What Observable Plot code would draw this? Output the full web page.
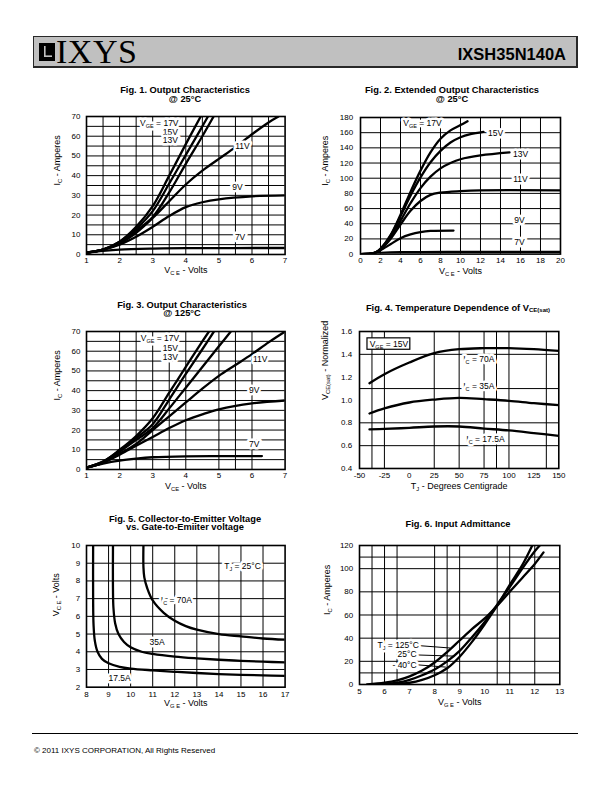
<!DOCTYPE html>
<html><head><meta charset="utf-8">
<script src="https://cdn.jsdelivr.net/npm/d3@7"></script>
<script src="https://cdn.jsdelivr.net/npm/@observablehq/plot@0.6"></script>
<style>
body{margin:0;background:#fff;}
#page{position:relative;width:612px;height:792px;font-family:"Liberation Sans",Arial,sans-serif;overflow:hidden;background:#fff;color:#000}
.title{position:absolute;transform:translateX(-50%);font-weight:bold;font-size:9.3px;text-align:center;white-space:nowrap;line-height:8.8px}
.sub{font-size:65%;position:relative;top:1.5px}
.hbox{position:absolute;left:33px;top:36px;width:543px;height:30px;background-color:rgb(192,192,192) !important;border:1px solid rgb(40,40,40);z-index:0}
#fline{position:absolute;left:32px;top:733px;width:546px;height:1px;background:#000}
#foot{position:absolute;left:34px;top:746px;font-size:8px;line-height:10px}
</style></head>
<body><div id="page">
<div class="hbox"></div>
<svg width="612" height="80" style="position:absolute;left:0;top:0;z-index:1" xmlns="http://www.w3.org/2000/svg">
  <rect x="33.5" y="36.5" width="543" height="30" style="fill:rgb(192,192,192);stroke:rgb(40,40,40);stroke-width:1"/>
  <rect x="39" y="43" width="16" height="18" fill="#000"/>
  <rect x="44" y="46" width="1.6" height="11" style="fill:rgb(192,192,192)"/>
  <rect x="44" y="55.4" width="8" height="1.6" style="fill:rgb(192,192,192)"/>
  <text x="56" y="63" font-family="Liberation Serif, Times New Roman, serif" font-size="34" letter-spacing="0.5">IXYS</text>
  <text x="566" y="59.5" text-anchor="end" font-family="Liberation Sans, Arial, sans-serif" font-weight="bold" font-size="16.5">IXSH35N140A</text>
</svg>
<div class="title" style="left:185px;top:86px">Fig. 1. Output Characteristics<br>@ 25°C</div>
<div class="title" style="left:452px;top:86px">Fig. 2. Extended Output Characteristics<br>@ 25°C</div>
<div class="title" style="left:182px;top:300.5px">Fig. 3. Output Characteristics<br>@ 125°C</div>
<div class="title" style="left:458px;top:303.5px">Fig. 4. Temperature Dependence of V<span class="sub">CE(sat)</span></div>
<div class="title" style="left:185px;top:514.5px">Fig. 5. Collector-to-Emitter Voltage<br>vs. Gate-to-Emiiter voltage</div>
<div class="title" style="left:458px;top:519.5px">Fig. 6. Input Admittance</div>
<div id="fline"></div>
<div id="foot">© 2011 IXYS CORPORATION, All Rights Reserved</div>
</div>
<script>
// ---------- Fig 1: Output characteristics @25C (VCE, IC) ----------
const f1_17V = [[1,1],[1.5,2.5],[2,6.5],[2.5,14],[3,24.5],[3.5,40],[4,56],[4.45,70]];
const f1_15V = [[1,1],[1.5,2.5],[2,6.5],[2.5,13],[3,22],[3.5,36],[4,50.5],[4.5,65],[4.67,70]];
const f1_13V = [[1,1],[1.5,2.5],[2,6],[2.5,12],[3,19],[3.5,31.5],[4,46],[4.5,60],[4.84,70]];
const f1_11V = [[1,1],[1.5,2.5],[2,5.5],[2.5,11],[3,18.5],[3.5,27],[4,35.5],[4.5,42.5],[5,48.5],[5.5,54.5],[6,61],[6.5,67],[6.8,70]];
const f1_9V  = [[1,1],[1.5,2.5],[2,5],[2.5,9],[3,14],[3.5,19.5],[4,24],[4.5,26.5],[5,28],[6,29.5],[7,30]];
const f1_7V  = [[1,0.8],[1.5,1.8],[2,2.5],[3,3],[4,3.2],[7,3.3]];
const f1_labels = [
  {x:3.78,y:66.5,t:"V_{GE} = 17V",a:"end"},{x:3.76,y:62.2,t:"15V",a:"end"},{x:3.76,y:57.8,t:"13V",a:"end"},
  {x:5.71,y:54.8,t:"11V",a:"middle"},{x:5.56,y:34.3,t:"9V",a:"middle"},{x:5.64,y:8.6,t:"7V",a:"middle"}];
const f1_xTicks = [1,2,3,4,5,6,7];
const f1_yTicks = [0,10,20,30,40,50,60,70];
const f1_xGrid = [1.5,2,2.5,3,3.5,4,4.5,5,5.5,6,6.5];
const f1_yGrid = [5,10,15,20,25,30,35,40,45,50,55,60,65];

// ---------- Fig 2: Extended output characteristics @25C ----------
const f2_17V = [[0,0],[1,0.5],[1.5,2],[2,7],[3,25],[4,52],[5,82],[6,110],[7,134],[8,152],[9,163],[10,170],[10.7,175]];
const f2_15V = [[0,0],[1,0.5],[1.5,2],[2,7],[3,24],[4,50],[5,77],[6,101],[7,121],[8,136],[9,147],[10,154],[11,158],[12.3,161]];
const f2_13V = [[0,0],[1,0.5],[1.5,2],[2,6],[3,22],[4,44],[5,67],[6,87],[7,102],[8,113],[9,120],[10,125],[12,130],[14.9,134]];
const f2_11V = [[0,0],[1,0.5],[1.5,2],[2,6],[3,20],[4,39],[5,57],[6,70],[7,78],[8,81],[10,83],[12,84],[20,84]];
const f2_9V  = [[0,0],[1,0.5],[1.5,2],[2,5],[3,13],[4,21],[5,26],[6,29],[7,30.5],[9.3,31]];
const f2_7V  = [[0,0],[1,0.5],[2,1.5],[4,2.5],[10,3],[20,3]];
const f2_labels = [
  {x:6.2,y:172,t:"V_{GE} = 17V",a:"middle"},{x:13.5,y:159,t:"15V",a:"middle"},{x:16,y:131,t:"13V",a:"middle"},
  {x:16,y:98,t:"11V",a:"middle"},{x:15.9,y:45,t:"9V",a:"middle"},{x:15.9,y:15,t:"7V",a:"middle"}];
const f2_xTicks = [0,2,4,6,8,10,12,14,16,18,20];
const f2_yTicks = [0,20,40,60,80,100,120,140,160,180];
const f2_xGrid = [2,4,6,8,10,12,14,16,18];
const f2_yGrid = [20,40,60,80,100,120,140,160];

// ---------- Fig 3: Output characteristics @125C ----------
const f3_17V = [[1,1],[1.5,4],[2,10],[2.5,17],[3,26],[3.5,39],[4,52],[4.5,65],[4.7,70]];
const f3_15V = [[1,1],[1.5,4],[2,9.5],[2.5,16],[3,23],[3.5,35.5],[4,48.5],[4.5,61],[4.85,70]];
const f3_13V = [[1,1],[1.5,3.5],[2,9],[2.5,15],[3,21],[3.5,31],[4,41.5],[4.5,52],[5,62.5],[5.36,70]];
const f3_11V = [[1,1],[1.5,3.5],[2,8],[2.5,13],[3,20],[3.5,27],[4,34],[4.5,41],[5,47.5],[5.5,53],[6,58.5],[6.5,64.5],[7,70]];
const f3_9V  = [[1,1],[1.5,3.5],[2,7.5],[2.5,12],[3,16.5],[3.5,21],[4,25],[4.5,28],[5,30.5],[6,33.5],[7,35]];
const f3_7V  = [[1,1],[1.5,3],[2,4.5],[2.5,5.5],[3,6.2],[4,6.7],[5,6.8],[6.3,6.8]];
const f3_labels = [
  {x:3.8,y:66.5,t:"V_{GE} = 17V",a:"end"},{x:3.76,y:61.6,t:"15V",a:"end"},{x:3.76,y:56.9,t:"13V",a:"end"},
  {x:6.25,y:56,t:"11V",a:"middle"},{x:6.07,y:40,t:"9V",a:"middle"},{x:6.07,y:12.9,t:"7V",a:"middle"}];
const f3_xGrid = [2,2.5,3,3.5,4,5,5.5,6];
const f3_yGrid = [5,10,15,20,25,30,35,40,45,50,55,60,65];

// ---------- Fig 4: Temperature dependence of VCE(sat) ----------
const f4_tj = [-40,-25,0,25,50,75,100,125,150];
const f4_70A  = [1.147,1.226,1.328,1.41,1.445,1.454,1.454,1.445,1.43];
const f4_35A  = [0.882,0.926,0.978,1.004,1.019,1.007,0.993,0.972,0.955];
const f4_17A  = [0.742,0.747,0.756,0.768,0.768,0.75,0.733,0.71,0.686];
const f4_labels = [
  {x:69.7,y:1.358,t:"I_{C} = 70A",a:"middle"},{x:69.7,y:1.118,t:"I_{C} = 35A",a:"middle"},
  {x:76.4,y:0.657,t:"I_{C} = 17.5A",a:"middle"}];
const f4_box = [{x1:-42,x2:1,y1:1.44,y2:1.54,t:"V_{GE} = 15V"}];
const f4_xTicks = [-50,-25,0,25,50,75,100,125,150];
const f4_yTicks = [0.4,0.6,0.8,1.0,1.2,1.4,1.6];
const f4_xGrid = [-37.5,-25,25,50,75,87.5,100,137.5];
const f4_yGrid = [0.6,0.8,1.1,1.4];

// ---------- Fig 5: VCE vs VGE ----------
const f5_17A = [[8.3,10],[8.3,7],[8.32,5.5],[8.38,4.6],[8.5,4.0],[8.7,3.6],[9,3.35],[9.5,3.15],[10,3.05],[11,2.95],[12,2.87],[13,2.8],[14,2.74],[15,2.7],[16,2.67],[17,2.64]];
const f5_35A = [[9.2,10],[9.2,7.5],[9.22,6.5],[9.3,5.6],[9.45,5.0],[9.7,4.55],[10,4.25],[10.5,4.0],[11,3.88],[12,3.73],[13,3.63],[14,3.55],[15,3.49],[16,3.44],[17,3.4]];
const f5_70A = [[10.58,10],[10.58,8.8],[10.62,8.2],[10.75,7.6],[11,6.9],[11.5,6.2],[12,5.75],[12.5,5.45],[13,5.25],[14,5.0],[15,4.87],[16,4.75],[17,4.68]];
const f5_labels = [
  {x:15.07,y:8.83,t:"T_{J} = 25°C",a:"middle"},{x:11.37,y:6.9,t:"I_{C} = 70A",a:"start"},
  {x:11.2,y:4.54,t:"35A",a:"middle"},{x:9.5,y:2.53,t:"17.5A",a:"middle"}];
const f5_xTicks = [8,9,10,11,12,13,14,15,16,17];
const f5_yTicks = [2,3,4,5,6,7,8,9,10];
const f5_xGrid = [9,10,11,12,13,14,15,16];
const f5_yGrid = [3,4,5,6,7,8,9];

// ---------- Fig 6: Input admittance ----------
const f6_125C = [[5.3,0],[6,1.5],[6.5,3.5],[7,7],[7.5,12],[8,19],[8.5,28],[9,38],[9.5,48],[10,57],[10.5,68],[11,80],[11.5,92],[12,104],[12.35,114]];
const f6_25C  = [[5.8,0],[6.5,1.5],[7,4],[7.5,8],[8,13],[8.5,20],[9,29],[9.5,41],[10,54],[10.5,69],[11,84],[11.5,100],[12,115],[12.2,120]];
const f6_m40C = [[6.3,0],[7,1.5],[7.5,4],[8,8],[8.5,14],[9,24],[9.5,37],[10,52],[10.5,68],[11,86],[11.5,103],[11.9,120]];
const f6_labels = [
  {x:7.37,y:33.7,t:"T_{J} = 125°C",a:"end"},{x:7.28,y:25.9,t:"25°C",a:"end"},{x:7.28,y:17,t:"- 40°C",a:"end"}];
const f6_leaders = [{x1:7.4,y1:33.5,x2:8.62,y2:31.5},{x1:7.3,y1:25.5,x2:8.77,y2:24.5},{x1:7.3,y1:17,x2:8.45,y2:15}];
const f6_xTicks = [5,6,7,8,9,10,11,12,13];
const f6_yTicks = [0,20,40,60,80,100,120];
const f6_xGrid = [5.5,6,6.5,8,8.5,9,10.5,11,12];
const f6_yGrid = [10,20,40,60,80,100,110];

// ---------- helpers ----------
const page = document.getElementById("page");
const NS = "http://www.w3.org/2000/svg";
function subscriptify(root){
  root.querySelectorAll("text").forEach(t=>{
    const s = t.textContent;
    if(!s.includes("_{")) return;
    while(t.firstChild) t.removeChild(t.firstChild);
    const re=/_\{([^}]*)\}/g; let last=0,m,shifted=false;
    const add=(txt,sub)=>{
      if(!txt) return;
      const sp=document.createElementNS(NS,"tspan"); sp.textContent=txt;
      if(sub){sp.setAttribute("font-size","0.65em");sp.setAttribute("dy","2");shifted=true;}
      else if(shifted){sp.setAttribute("dy","-2");shifted=false;}
      t.appendChild(sp);
    };
    while((m=re.exec(s))){add(s.slice(last,m.index),false);add(m[1],true);last=re.lastIndex;}
    add(s.slice(last),false);
  });
}
const P = d=>d[0], Q = d=>d[1];
const LO = {x:P,y:Q,stroke:"#000",strokeWidth:2.3,curve:"catmull-rom",clip:true};
const lines = arr => arr.map(s=>Plot.line(s,LO));
function chart(c){
  const [L,T,R,B]=c.frame;
  const mL=55,mR=16,mT=8,mB=40;
  const width=R-L+mL+mR, height=B-T+mT+mB;
  const halo = {fill:"#000",stroke:"#fff",strokeWidth:5,fontSize:8.5};
  const marks=[
    Plot.ruleX(c.xGrid,{x:d=>d,stroke:"#000",strokeWidth:1}),
    Plot.ruleY(c.yGrid,{y:d=>d,stroke:"#000",strokeWidth:1}),
    ...c.series,
    ...(c.extra||[]),
    Plot.frame({stroke:"#000",strokeWidth:1.6}),
    Plot.text(c.xTicks,{x:d=>d,text:c.xFmt||(d=>String(d)),frameAnchor:"bottom",dy:c.xTickDy,fontSize:8}),
    Plot.text(c.yTicks,{y:d=>d,text:c.yFmt||(d=>String(d)),frameAnchor:"left",dx:-c.yTickDx,textAnchor:"end",fontSize:8}),
    Plot.text([c.xLabel],{text:d=>d,frameAnchor:"bottom",dy:c.xLabelDy,fontSize:9}),
    Plot.text([c.yLabel],{text:d=>d,frameAnchor:"left",dx:-c.yLabelDx,rotate:-90,fontSize:9}),
  ];
  if(c.labels){
    for(const a of ["start","middle","end"]){
      const ls=c.labels.filter(l=>l.a===a);
      if(ls.length) marks.push(Plot.text(ls,{x:"x",y:"y",text:"t",textAnchor:a,...halo}));
    }
  }
  const svg=Plot.plot({width,height,marginLeft:mL,marginRight:mR,marginTop:mT,marginBottom:mB,
    x:{domain:c.xDomain,axis:null},y:{domain:c.yDomain,axis:null},
    style:{fontFamily:"Liberation Sans, Arial, sans-serif",background:"transparent",overflow:"visible",maxWidth:"none"},
    marks});
  svg.style.position="absolute";svg.style.left=(L-mL)+"px";svg.style.top=(T-mT)+"px";
  subscriptify(svg);
  page.appendChild(svg);
}

chart({frame:[85.7,115.7,284.3,253.7],xDomain:[1,7],yDomain:[0,70],
  xTicks:f1_xTicks,yTicks:f1_yTicks,xGrid:f1_xGrid,yGrid:f1_yGrid,
  series:lines([f1_17V,f1_15V,f1_13V,f1_11V,f1_9V,f1_7V]),labels:f1_labels,
  xLabel:"V_{C E} - Volts",yLabel:"I_{C} - Amperes",xTickDy:9,xLabelDy:19,yTickDx:6,yLabelDx:29});

chart({frame:[360,116.7,560,253.3],xDomain:[0,20],yDomain:[0,180],
  xTicks:f2_xTicks,yTicks:f2_yTicks,xGrid:f2_xGrid,yGrid:f2_yGrid,
  series:lines([f2_17V,f2_15V,f2_13V,f2_11V,f2_9V,f2_7V]),labels:f2_labels,
  xLabel:"V_{C E} - Volts",yLabel:"I_{C} - Amperes",xTickDy:9.4,xLabelDy:19.7,yTickDx:7.3,yLabelDx:35});

chart({frame:[85.7,330.7,284.3,468.7],xDomain:[1,7],yDomain:[0,70],
  xTicks:f1_xTicks,yTicks:f1_yTicks,xGrid:f3_xGrid,yGrid:f3_yGrid,
  series:lines([f3_17V,f3_15V,f3_13V,f3_11V,f3_9V,f3_7V]),labels:f3_labels,
  xLabel:"V_{CE} - Volts",yLabel:"I_{C} - Amperes",xTickDy:9,xLabelDy:20,yTickDx:6,yLabelDx:29});

const f4series = [f4_70A,f4_35A,f4_17A].map(v=>Plot.line(f4_tj.map((t,i)=>[t,v[i]]),LO));
chart({frame:[359,330.7,558.3,467.7],xDomain:[-50,150],yDomain:[0.4,1.6],
  xTicks:f4_xTicks,yTicks:f4_yTicks,xGrid:f4_xGrid,yGrid:f4_yGrid,yFmt:d=>d.toFixed(1),
  series:f4series,labels:f4_labels,
  extra:[Plot.rect(f4_box,{x1:"x1",x2:"x2",y1:"y1",y2:"y2",fill:"#fff",stroke:"#000",strokeWidth:1.2}),
         Plot.text(f4_box,{x:d=>(d.x1+d.x2)/2,y:d=>(d.y1+d.y2)/2,text:"t",fontSize:8.5})],
  xLabel:"T_{J} - Degrees Centigrade",yLabel:"V_{CE(sat)} - Normalized",xTickDy:10,xLabelDy:21,yTickDx:7.3,yLabelDx:34});

chart({frame:[85.7,545,284.3,686.7],xDomain:[8,17],yDomain:[2,10],
  xTicks:f5_xTicks,yTicks:f5_yTicks,xGrid:f5_xGrid,yGrid:f5_yGrid,
  series:lines([f5_17A,f5_35A,f5_70A]),labels:f5_labels,
  xLabel:"V_{G E} - Volts",yLabel:"V_{C E} - Volts",xTickDy:9.5,xLabelDy:18.5,yTickDx:6.4,yLabelDx:30.7});

chart({frame:[359,545,559.3,684],xDomain:[5,13],yDomain:[0,120],
  xTicks:f6_xTicks,yTicks:f6_yTicks,xGrid:f6_xGrid,yGrid:f6_yGrid,
  series:lines([f6_125C,f6_25C,f6_m40C]),
  extra:[Plot.link(f6_leaders,{x1:"x1",y1:"y1",x2:"x2",y2:"y2",stroke:"#000",strokeWidth:1})],
  labels:f6_labels,
  xLabel:"V_{G E} - Volts",yLabel:"I_{C} - Amperes",xTickDy:9.3,xLabelDy:21,yTickDx:6.3,yLabelDx:32});
</script>
</body></html>
